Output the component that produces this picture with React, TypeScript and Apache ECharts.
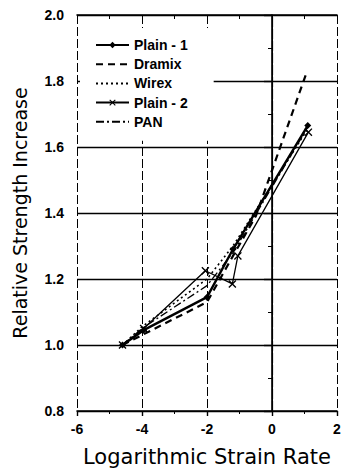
import React, { useEffect, useRef } from "react";
import * as echarts from "echarts";

// Log strain rate (x) and relative strength increase (y) per mix
const plain1X = [-4.6, -3.95, -2.0, -1.2, 1.1];
const plain1Y = [1.0, 1.045, 1.145, 1.29, 1.665];

const dramixX = [-4.6, -2.0, -1.2, -0.5, 1.08];
const dramixY = [1.0, 1.13, 1.27, 1.39, 1.83];

const wirexX = [-4.6, -4.0, -2.0, -1.2, 1.1];
const wirexY = [1.0, 1.055, 1.2, 1.3, 1.655];

const plain2X = [-4.6, -3.95, -2.05, -1.22, -1.05, 1.12];
const plain2Y = [1.0, 1.05, 1.225, 1.185, 1.27, 1.645];

const panX = [-4.6, -4.0, -2.0, -1.2, 1.1];
const panY = [1.0, 1.05, 1.18, 1.28, 1.66];

const seriesNames = ["Plain - 1", "Dramix", "Wirex", "Plain - 2", "PAN"];
// series drawn without point markers
const lineOnly = ["Dramix", "Wirex", "PAN"];

const xTicks = { min: -6, max: 2, interval: 2 };
const yTicks = { min: 0.8, max: 2.0, interval: 0.2 };

const zip = (xs: number[], ys: number[]) => xs.map((x, i) => [x, ys[i]]);

const CROSS =
  "path://M0,1.2L1.2,0L5,3.8L8.8,0L10,1.2L6.2,5L10,8.8L8.8,10L5,6.2L1.2,10L0,8.8L3.8,5Z";

const labelFont = "'Liberation Sans', Arial, sans-serif";
const titleFont = "'DejaVu Sans', sans-serif";

export default function App() {
  const ref = useRef<HTMLDivElement>(null);

  useEffect(() => {
    document.body.style.margin = "0";
    if (!ref.current) return;
    const chart = echarts.init(ref.current, undefined, { renderer: "svg" });

    const axisLine = { show: true, lineStyle: { color: "#000", width: 1.6 } };

    chart.setOption({
      animation: false,
      backgroundColor: "#fff",
      grid: { left: 77, right: 7, top: 15, bottom: 62 },
      legend: {
        orient: "vertical",
        left: 80,
        top: 28,
        padding: [10, 26, 12, 15],
        backgroundColor: "#fff",
        itemWidth: 33,
        itemHeight: 8,
        itemGap: 5.2,
        data: seriesNames.map((name) =>
          lineOnly.includes(name) ? { name, itemStyle: { opacity: 0 } } : { name }
        ),
        textStyle: {
          fontFamily: labelFont,
          fontSize: 14,
          lineHeight: 14,
          fontWeight: "bold",
          color: "#000",
        },
      },
      xAxis: [
        {
          type: "value",
          position: "bottom",
          ...xTicks,
          name: "Logarithmic Strain Rate",
          nameLocation: "middle",
          nameGap: 35,
          nameTextStyle: {
            fontFamily: titleFont,
            fontSize: 21,
            color: "#000",
          },
          axisLine,
          axisTick: { show: true, length: 5, lineStyle: { color: "#000", width: 1.4 } },
          minorTick: { show: true, splitNumber: 2, length: 3, lineStyle: { color: "#000" } },
          axisLabel: {
            margin: 11,
            fontFamily: labelFont,
            fontSize: 14,
            fontWeight: "bold",
            color: "#000",
          },
          splitLine: {
            show: true,
            lineStyle: { color: "#000", width: 1, type: [9, 3] },
          },
        },
        {
          type: "value",
          position: "top",
          ...xTicks,
          axisLine,
          axisTick: { show: true, inside: true, length: 5, lineStyle: { color: "#000" } },
          minorTick: { show: true, splitNumber: 2, length: 4, lineStyle: { color: "#000" } },
          axisLabel: { show: false },
          splitLine: { show: false },
        },
      ],
      yAxis: [
        {
          type: "value",
          position: "left",
          ...yTicks,
          name: "Relative Strength Increase",
          nameLocation: "middle",
          nameGap: 48,
          nameTextStyle: {
            fontFamily: titleFont,
            fontSize: 19,
            color: "#000",
          },
          axisLine,
          axisTick: { show: true, length: 8, lineStyle: { color: "#000", width: 1.4 } },
          minorTick: { show: true, splitNumber: 2, length: 3, lineStyle: { color: "#000" } },
          axisLabel: {
            margin: 13,
            fontFamily: labelFont,
            fontSize: 14,
            fontWeight: "bold",
            color: "#000",
            formatter: (v: number) => v.toFixed(1),
          },
          splitLine: {
            show: true,
            lineStyle: { color: "#000", width: 1.3 },
          },
        },
        {
          type: "value",
          position: "right",
          ...yTicks,
          axisLine: { show: true, lineStyle: { color: "#000", width: 1.2, type: [10, 2] } },
          axisTick: { show: true, inside: true, length: 4, lineStyle: { color: "#000" } },
          minorTick: { show: true, splitNumber: 2, length: 4, lineStyle: { color: "#000" } },
          axisLabel: { show: false },
          splitLine: { show: false },
        },
      ],
      series: [
        {
          name: "Plain - 1",
          type: "line",
          data: zip(plain1X, plain1Y),
          symbol: "diamond",
          symbolSize: 7,
          lineStyle: { color: "#000", width: 2.4 },
          itemStyle: { color: "#000" },
        },
        {
          name: "Dramix",
          type: "line",
          data: zip(dramixX, dramixY),
          symbol: "none",
          lineStyle: { color: "#000", width: 2.2, type: [7, 5] },
          itemStyle: { color: "#000" },
        },
        {
          name: "Wirex",
          type: "line",
          data: zip(wirexX, wirexY),
          symbol: "none",
          lineStyle: { color: "#000", width: 1.6, type: [2, 3] },
          itemStyle: { color: "#000" },
        },
        {
          name: "Plain - 2",
          type: "line",
          data: zip(plain2X, plain2Y),
          symbol: CROSS,
          symbolSize: 8,
          lineStyle: { color: "#000", width: 1.3 },
          itemStyle: { color: "#000" },
        },
        {
          name: "PAN",
          type: "line",
          data: zip(panX, panY),
          symbol: "none",
          lineStyle: { color: "#000", width: 1.3, type: [8, 3, 2, 3] },
          itemStyle: { color: "#000" },
        },
      ],
    });

    return () => chart.dispose();
  }, []);

  return <div ref={ref} style={{ width: 344, height: 473 }} />;
}
